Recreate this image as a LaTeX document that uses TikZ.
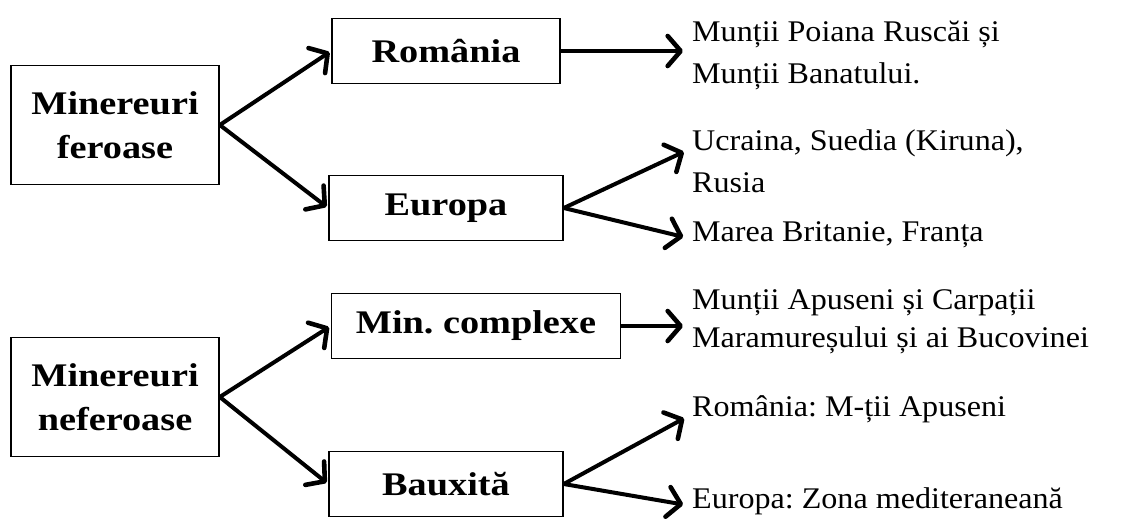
\documentclass[tikz,border=0pt]{standalone}
\usepackage{fontspec}
\setmainfont{Liberation Serif}
\newfontfamily\boxfont[FakeStretch=1.16]{Liberation Serif}
\newfontfamily\txtfont[FakeStretch=1.07]{Liberation Serif}
\usepackage{tikz}
\usetikzlibrary{positioning,calc,arrows.meta}
\frenchspacing

\newcommand{\txtlines}[1]{\begin{tabular}[t]{@{}l@{}}#1\end{tabular}}

\begin{document}
\begin{tikzpicture}[x=1pt, y=-1pt, ->, >={Straight Barb[length=13pt, width=30pt, line width=4.6pt, round]}, big/.style = {draw, line width=1.6pt, align=center, font=\boxfont\bfseries\fontsize{33}{44}\selectfont, minimum width=208pt, minimum height=119pt}, box/.style = {draw, line width=1.6pt, font=\boxfont\bfseries\fontsize{33}{40}\selectfont, minimum width=234pt, minimum height=65pt}, txt/.style = {anchor=mid west, inner sep=0pt, font=\txtfont\fontsize{30}{42}\selectfont}, every edge/.append style={line width=4pt}]

\useasboundingbox (0,0) rectangle (1124,528);

% boxes
\node[big] (fer) at (115,125) {Minereuri\\feroase};
\node[big] (nefer) at (115,397) {Minereuri\\neferoase};
\node[box, minimum width=228pt] (rom) at (446,51) {România};
\node[box] (eur) at (446,208) {Europa};
\node[box, minimum width=289pt] (mincx) at (476,326) {Min. complexe};
\node[box] (baux) at (446,484) {Bauxită};

% texts
\node[txt] (poiana) at (692,39) {\txtlines{Munții Poiana Ruscăi și\\Munții Banatului.}};
\node[txt] (ucr) at (692,148) {\txtlines{Ucraina, Suedia (Kiruna),\\Rusia}};
\node[txt] (mbr) at (692,239) {\txtlines{Marea Britanie, Franța}};
\node[txt, font=\txtfont\fontsize{30}{38}\selectfont] (apus) at (692,307) {\txtlines{Munții Apuseni și Carpații\\Maramureșului și ai Bucovinei}};
\node[txt] (romapus) at (692,414) {\txtlines{România: M-ții Apuseni}};
\node[txt] (eurmed) at (692,506) {\txtlines{Europa: Zona mediteraneană}};

\path[shorten >=2pt]
    (fer.east) edge (rom.west)
    (fer.east) edge (eur.west)
    (nefer.east) edge (mincx.west)
    (nefer.east) edge (baux.west);

\path[shorten >=9pt]
    (rom.east) edge (rom.east -| poiana.west)
    (eur.east) edge (ucr.mid west)
    (eur.east) edge (mbr.mid west)
    (mincx.east) edge (mincx.east -| apus.west)
    (baux.east) edge (romapus.mid west)
    (baux.east) edge (eurmed.mid west);
\end{tikzpicture}
\end{document}
